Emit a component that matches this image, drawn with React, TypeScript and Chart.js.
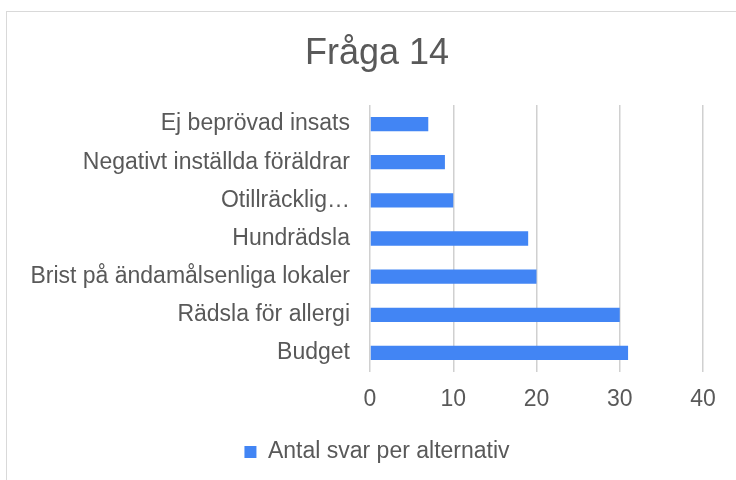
import React, { useEffect, useRef } from "react";
import { Chart, registerables } from "chart.js";

Chart.register(...registerables);

const categories = [
  "Ej beprövad insats",
  "Negativt inställda föräldrar",
  "Otillräcklig…",
  "Hundrädsla",
  "Brist på ändamålsenliga lokaler",
  "Rädsla för allergi",
  "Budget",
];
const values = [7, 9, 10, 19, 20, 30, 31];
const seriesName = "Antal svar per alternativ";
const titleText = "Fråga 14";

const FONT = "'Liberation Sans', Arial, sans-serif";
const TEXT = "#595959";

export default function App() {
  const ref = useRef<HTMLCanvasElement | null>(null);
  useEffect(() => {
    if (!ref.current) return;
    const chart = new Chart(ref.current, {
      type: "bar",
      data: {
        labels: categories,
        datasets: [
          {
            label: seriesName,
            data: values,
            backgroundColor: "#4285F4",
            borderWidth: 0,
            barPercentage: 0.75,
            categoryPercentage: 0.5,
          },
        ],
      },
      options: {
        indexAxis: "y",
        animation: false,
        responsive: false,
        layout: { padding: { top: 14, right: 33, bottom: 6.5, left: 51 } },
        plugins: {
          title: {
            display: true,
            text: titleText,
            color: TEXT,
            font: { family: FONT, size: 36, weight: "normal" },
            padding: { top: 18, bottom: 29.8 },
          },
          legend: {
            position: "bottom",
            labels: {
              color: TEXT,
              font: { family: FONT, size: 23 },
              boxWidth: 12,
              boxHeight: 12,
              padding: 10,
            },
          },
          tooltip: { enabled: false },
        },
        scales: {
          x: {
            min: 0,
            max: 40,
            ticks: {
              stepSize: 10,
              color: TEXT,
              font: { family: FONT, size: 23 },
              padding: 14,
            },
            grid: { color: "#d0d0d0", lineWidth: 1.5, drawTicks: false },
            border: { display: false },
            afterFit: (s: any) => {
              s.height = 58.5;
            },
          },
          y: {
            ticks: {
              color: TEXT,
              font: { family: FONT, size: 23 },
              padding: 20,
            },
            grid: { display: false, drawTicks: false },
            border: { display: false },
            afterFit: (s: any) => {
              s.width = 319;
              s._computeLabelArea = () => undefined;
            },
          },
        },
      },
    });
    return () => chart.destroy();
  }, []);
  return (
    <div
      style={{
        position: "fixed",
        left: 0,
        top: 0,
        width: 736,
        height: 480,
        overflow: "hidden",
        background: "#fff",
      }}
    >
      <div
        style={{
          position: "absolute",
          left: 6,
          top: 11,
          width: 900,
          height: 700,
          border: "1.5px solid #d9d9d9",
        }}
      />
      <canvas
        ref={ref}
        width={736}
        height={480}
        style={{ position: "absolute", left: 0, top: 0 }}
      />
    </div>
  );
}
